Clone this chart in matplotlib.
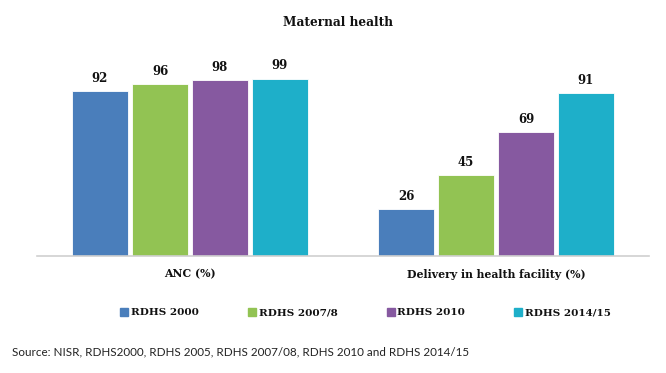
import matplotlib.pyplot as plt
import numpy as np

categories = ['ANC (%)', 'Delivery in health facility (%)']
series = ['RDHS 2000', 'RDHS 2007/8', 'RDHS 2010', 'RDHS 2014/15']
values = [
    [92, 26],
    [96, 45],
    [98, 69],
    [99, 91],
]
colors = ['#4A7EBB', '#92C353', '#8659A0', '#1EAFC9']
source = 'Source: NISR, RDHS2000, RDHS 2005, RDHS 2007/08, RDHS 2010 and RDHS 2014/15'

serif = 'DejaVu Serif'

fig = plt.figure(figsize=(6.66, 3.73), dpi=100)
ax = fig.add_axes([37 / 666, (373 - 256) / 373, 612 / 666, 197 / 373])

x = np.arange(len(categories))
step = 0.196
width = 0.186
for i, (name, vals, c) in enumerate(zip(series, values, colors)):
    bars = ax.bar(x + (i - 1.5) * step, vals, width, color=c, label=name,
                  edgecolor='white', linewidth=0.6)
    for b, v in zip(bars, vals):
        ax.text(b.get_x() + b.get_width() / 2, v + 3.5, str(v), ha='center', va='bottom',
                fontsize=8.5, fontweight='bold', family=serif, color='#111111')

ax.set_xlim(-0.5, 1.5)
ax.set_ylim(0, 110)
ax.set_yticks([])
ax.set_xticks(x)
ax.set_xticklabels(categories, fontsize=7.8, fontweight='bold', family=serif, color='#111111')
ax.tick_params(axis='x', length=0, pad=9)
for s in ['top', 'right', 'left']:
    ax.spines[s].set_visible(False)
ax.spines['bottom'].set_color('#D0D0D0')
ax.spines['bottom'].set_linewidth(1.2)

fig.text(0.507, 0.94, 'Maternal health', ha='center', va='center',
         fontsize=8.7, fontweight='bold', family=serif, color='#111111')

leg_handles = [plt.Line2D([], [], marker='s', linestyle='none', markersize=5.5, color=c) for c in colors]
leg = fig.legend(leg_handles, series, loc='center', bbox_to_anchor=(0.548, 0.162), ncol=4,
                 frameon=False, handletextpad=0.15, columnspacing=4.6, handlelength=1.0,
                 prop={'family': serif, 'weight': 'bold', 'size': 7.5})
for t in leg.get_texts():
    t.set_color('#111111')

fig.text(12 / 666, 1 - 352 / 373, source, ha='left', va='center', fontsize=8.4,
         family='Lato', color='#222222')

fig.savefig('out.png', dpi=100)
